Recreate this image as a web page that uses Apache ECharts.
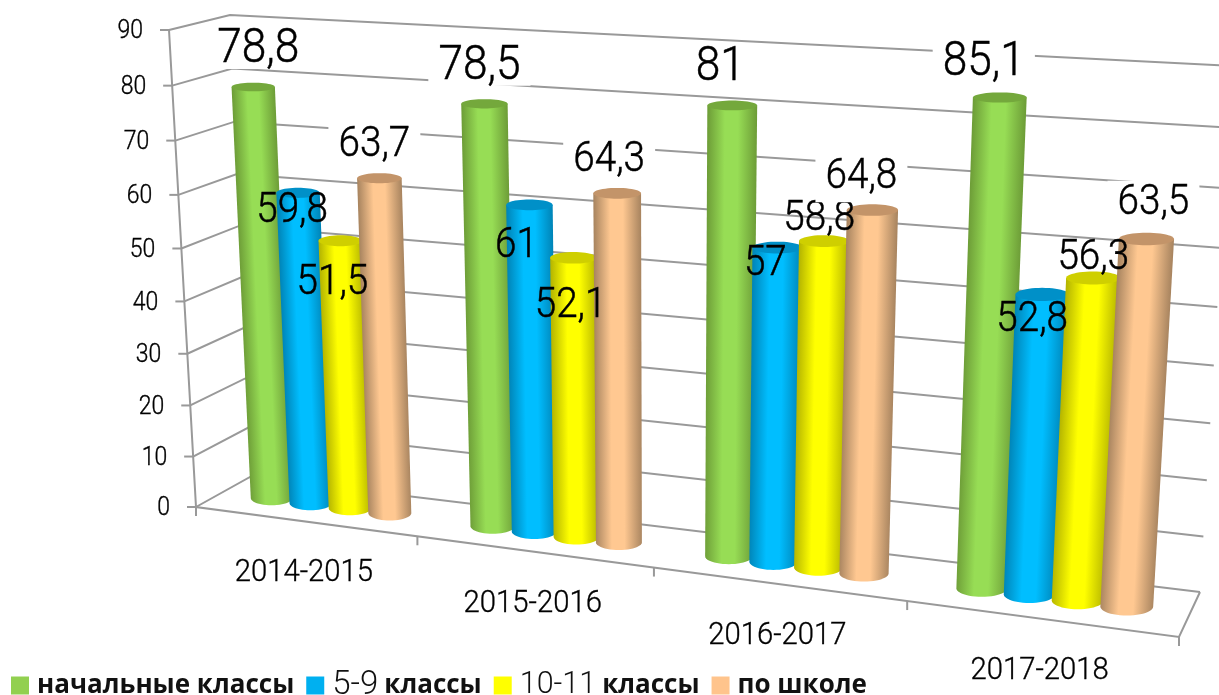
<!DOCTYPE html>
<html><head><meta charset="utf-8">
<style>html,body{margin:0;padding:0;background:#fff}#c{width:1219px;height:695px}</style>
<script src="https://cdn.jsdelivr.net/npm/echarts@6/dist/echarts.min.js"></script>
</head><body><div id="c"></div>
<script>
// ---- data ----
const categories = ['2014-2015', '2015-2016', '2016-2017', '2017-2018'];
const tickValues = [0, 10, 20, 30, 40, 50, 60, 70, 80, 90];
const primary = [78.8, 78.5, 81, 85.1];
const middle = [59.8, 61, 57, 52.8];
const senior = [51.5, 52.1, 58.8, 56.3];
const school = [63.7, 64.3, 64.8, 63.5];
const seriesNames = ['начальные классы', '5-9 классы', '10-11 классы', 'по школе'];
const seriesValues = [primary, middle, senior, school];

// ---- hand-placed data label nudges (as in the source chart), relative to bar top ----
// [dx, dy, optional extra bottom padding of the white box]
const labelNudge = [
  [[5, -40], [-5, -40], [-12, -40, 10], [-16, -38]],
  [[-6, 16], [-13, 39], [-12, 14], [-10, 23]],
  [[-8, 40], [-3, 46], [-5, -24], [0, -22]],
  [[-5, -35], [-8, -35], [-11, -35, 3], [7, -38]]
];
// ---- styling ----
const palettes = [
  {legend: '#92D050', edge: '#6E9E38', center: '#97DD55', top: '#74A83C'},
  {legend: '#00B0F0', edge: '#0085B8', center: '#00BEFF', top: '#0090C8'},
  {legend: '#FFFF00', edge: '#B5B500', center: '#FFFF00', top: '#CFCF00'},
  {legend: '#FFC48C', edge: '#A98560', center: '#FFC891', top: '#C39469'}
];
const labelStyle = [
  {size: 48, pad: [0, 11, 0, 11]}, {size: 42}, {size: 42}, {size: 42, pad: [0, 11, 8, 11]}
];
const GRID = '#999999';
const FONT = 'Roboto, sans-serif';
const NARROW = 0.92;

// ---- perspective frame of the box (back wall / front plane) ----
function squareToQuad(q) {
  const [[x0,y0],[x1,y1],[x2,y2],[x3,y3]] = q;
  const dx1=x1-x2, dx2=x3-x2, sx=x0-x1+x2-x3, dy1=y1-y2, dy2=y3-y2, sy=y0-y1+y2-y3;
  const den=dx1*dy2-dx2*dy1, g=(sx*dy2-dx2*sy)/den, h=(dx1*sy-sx*dy1)/den;
  const a=x1-x0+g*x1, b=x3-x0+h*x3, d=y1-y0+g*y1, e=y3-y0+h*y3;
  return (u,v)=>{const w=g*u+h*v+1; return [(a*u+b*v+x0)/w,(d*u+e*v+y0)/w];};
}
const backWall = squareToQuad([[250,477],[1200,592],[1232,66],[230,15]]);
const frontWall = squareToQuad([[196,507],[1179,637],[1212,94],[169,30]]);
function project(u,v,w){
  const b=backWall(u,v), f=frontWall(u,v);
  return [b[0]+(f[0]-b[0])*w, b[1]+(f[1]-b[1])*w];
}
function unit(api, params, cat, val){
  const p=api.coord([cat,val]), cs=params.coordSys;
  return [(p[0]-cs.x)/cs.width, (cs.y+cs.height-p[1])/cs.height];
}
const BAR_STEP=0.181, BAR_HALF=0.097;

function renderBar(s){
  return function(params, api){
    const cat=api.value(0), val=api.value(1);
    const uv=unit(api,params,cat,val);
    const band=api.size([1,0])[0]/params.coordSys.width;
    const u=uv[0]+(s-1.5)*BAR_STEP*band, v=uv[1], ru=BAR_HALF*band;
    const tc=project(u,v,.5), bc=project(u,0,.5);
    const rt=(project(u+ru,v,.5)[0]-project(u-ru,v,.5)[0])/2;
    const rb=(project(u+ru,0,.5)[0]-project(u-ru,0,.5)[0])/2;
    const tk=.34-.16*v, bk=.34;
    const ellipse=(c,r,k,t)=>[c[0]+r*Math.cos(t), c[1]+r*k*Math.sin(t)];
    const body=[[tc[0]-rt,tc[1]],[tc[0]+rt,tc[1]]];
    for(let i=0;i<=24;i++) body.push(ellipse(bc,rb,bk,Math.PI*i/24));
    const cap=[];
    for(let i=0;i<48;i++) cap.push(ellipse(tc,rt,tk,2*Math.PI*i/48));
    // shading runs across the leaning cylinder, so its bands stay parallel to the sides
    const ax=[bc[0]-tc[0],bc[1]-tc[1]], len=Math.hypot(ax[0],ax[1]);
    const n=[ax[1]/len,-ax[0]/len], m=[(tc[0]+bc[0])/2,(tc[1]+bc[1])/2];
    const r=(rt+rb)/2;
    const pal=palettes[s];
    const grad=new echarts.graphic.LinearGradient(m[0]-n[0]*r,m[1]-n[1]*r,m[0]+n[0]*r,m[1]+n[1]*r,[
      {offset:0,color:pal.edge},{offset:.35,color:pal.center},{offset:.62,color:pal.center},{offset:1,color:pal.edge}],true);
    const nudge=labelNudge[s][cat], ls=labelStyle[s];
    const textStyle={text:String(val).replace('.',','),x:0,y:0,fill:'#000',stroke:'#000',lineWidth:.5,
      font:'300 '+ls.size+'px '+FONT,align:'center',verticalAlign:'middle'};
    if(ls.pad){
      textStyle.backgroundColor='#fff';
      textStyle.lineHeight=38;
      const pad=ls.pad.slice();
      pad[2]+=nudge[2]||0;
      textStyle.padding=pad;
    }
    return {type:'group',children:[
      {type:'polygon',shape:{points:body},style:{fill:grad},z2:s+1},
      {type:'polygon',shape:{points:cap},style:{fill:pal.top},z2:s+1},
      {type:'text',x:tc[0]+nudge[0],y:tc[1]+nudge[1]+ls.size*.0625,scaleX:NARROW,style:textStyle,z2:20+s}
    ]};
  };
}
function renderGridline(params, api){
  const uv=unit(api,params,0,api.value(1)), v=uv[1];
  const f=project(0,v,1), b=project(0,v,0), r=project(1,v,0);
  return {type:'group',children:[
    {type:'polyline',shape:{points:[f,b,r]},style:{stroke:GRID,lineWidth:2,fill:null}},
    {type:'line',shape:{x1:f[0]-9,y1:f[1],x2:f[0],y2:f[1]},style:{stroke:GRID,lineWidth:2}},
    {type:'text',x:f[0]-26,y:f[1]+2,scaleX:NARROW,style:{text:String(api.value(1)),x:0,y:0,fill:'#000',stroke:'#000',lineWidth:.35,font:'300 25px '+FONT,align:'right',verticalAlign:'middle'}}
  ]};
}
function renderCategory(params, api){
  const cat=api.value(0), cs=params.coordSys;
  const band=api.size([1,0])[0]/cs.width;
  const uc=(cat+.5)*band, ue=(cat+1)*band;
  const c=project(uc,0,1), e=project(ue,0,1);
  const kids=[
    {type:'line',shape:{x1:e[0],y1:e[1],x2:e[0],y2:e[1]+9},style:{stroke:GRID,lineWidth:2}},
    {type:'text',x:c[0]-1,y:c[1]+52,scaleX:.93,style:{text:categories[cat],x:0,y:0,fill:'#000',stroke:'#000',lineWidth:.35,font:'300 31.5px '+FONT,align:'center',verticalAlign:'middle'}}
  ];
  if(cat===0){const s=project(0,0,1);kids.push({type:'line',shape:{x1:s[0],y1:s[1],x2:s[0],y2:s[1]+9},style:{stroke:GRID,lineWidth:2}});}
  return {type:'group',children:kids};
}
function renderFrame(params, api){
  const fl=project(0,0,1), tl=project(0,1,1), fr=project(1,0,1), br=project(1,0,0);
  return {type:'polyline',shape:{points:[tl,fl,fr,br]},style:{stroke:GRID,lineWidth:2,fill:null}};
}

const series=[
  {type:'custom',name:'frame',silent:true,renderItem:renderFrame,data:[[0,0]],z:1},
  {type:'custom',name:'gridlines',silent:true,renderItem:renderGridline,data:tickValues.map(t=>[0,t]),z:1},
  {type:'custom',name:'categories',silent:true,renderItem:renderCategory,data:categories.map((c,i)=>[i,0]),z:1}
];
seriesNames.forEach((name,s)=>{
  series.push({type:'custom',name,renderItem:renderBar(s),z:2,
    itemStyle:{color:palettes[s].legend},
    data:seriesValues[s].map((v,i)=>[i,v])});
});

const chart=echarts.init(document.getElementById('c'),null,{renderer:'canvas'});
chart.setOption({
  animation:false,backgroundColor:'#fff',
  grid:{left:0,right:0,top:0,bottom:0},
  xAxis:{type:'category',data:categories,show:false},
  yAxis:{type:'value',min:0,max:90,interval:10,show:false},
  legend:{data:seriesNames,left:11,top:669,itemWidth:18,itemHeight:18,itemGap:12,icon:'rect',
    selectedMode:false,padding:0,
    formatter:n=>{const m=n.match(/^([\d-]+) (.*)$/);return m?'{'+(m[1].length>3?'w':'n')+'|'+m[1]+'}{c|'+m[2]+'}':'{b|'+n+'}';},
    textStyle:{fontSize:26,color:'#000',rich:{
      b:{fontFamily:'"Open Sans"',fontWeight:'bold',fontSize:26,color:'#111',padding:[0,0,0,3]},
      c:{fontFamily:'"Open Sans"',fontWeight:'bold',fontSize:26,color:'#111',padding:[0,0,0,6]},
      n:{fontFamily:'Roboto',fontWeight:300,fontSize:33,color:'#111',padding:[0,0,0,3]},
      w:{fontFamily:'Roboto',fontWeight:300,fontSize:30.5,color:'#111',padding:[0,0,0,3]}
    }}},
  series
});
</script></body></html>
